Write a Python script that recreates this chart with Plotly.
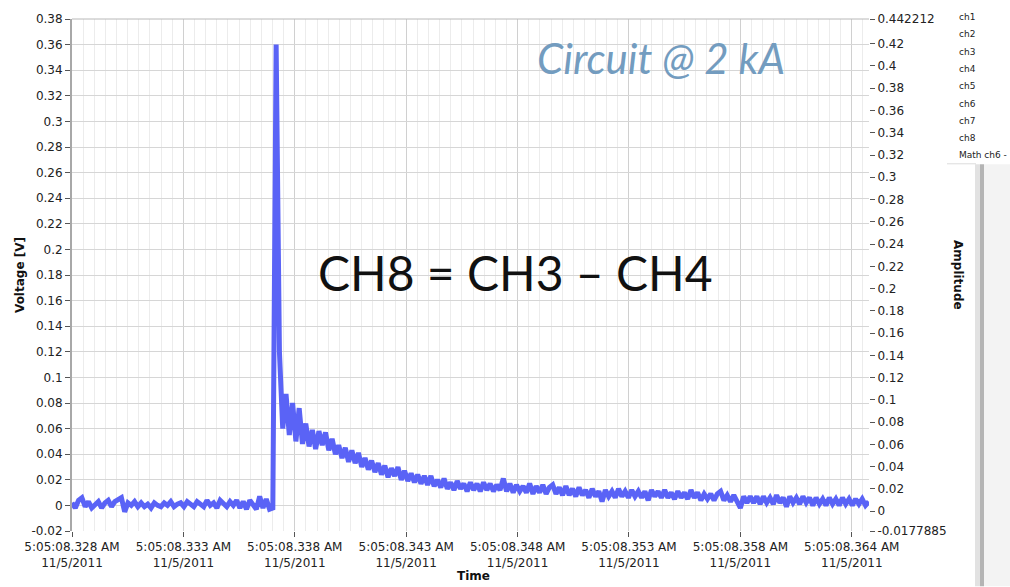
import plotly.graph_objects as go

# ---------------- data ----------------
dt_ms = 0.15  # sample interval (ms) from the first tick time

voltage = [
    0.002, -0.002, 0.004, 0.006, -0.001, 0.003, -0.002, 0.001, 0.003, -0.002,
    0.002, 0.004, -0.001, 0.003, 0.005, 0.006, -0.005, 0.002, 0.000, 0.003,
    -0.001, 0.002, -0.001, 0.001, -0.002, 0.002, 0.000, -0.001, 0.002, 0.000,
    0.003, -0.001, 0.001, 0.002, -0.001, 0.003, 0.001, -0.001, 0.003, 0.001,
    -0.001, 0.004, 0.000, 0.002, -0.002, 0.004, 0.001, -0.001, 0.003, 0.000,
    0.004, -0.002, 0.003, -0.003, 0.004, 0.001, -0.003, 0.007, -0.002, 0.005,
    -0.003, -0.002,
    0.360, 0.120, 0.060, 0.087, 0.055, 0.080, 0.050, 0.076, 0.048, 0.064,
    0.046, 0.059, 0.044, 0.058, 0.047, 0.057, 0.043, 0.052, 0.040, 0.047,
    0.037, 0.045, 0.034, 0.043, 0.033, 0.041, 0.030, 0.037, 0.028, 0.035,
    0.026, 0.033, 0.024, 0.031, 0.022, 0.029, 0.023, 0.030, 0.020, 0.027,
    0.019, 0.025, 0.018, 0.024, 0.017, 0.023, 0.016, 0.023, 0.015, 0.020,
    0.014, 0.021, 0.013, 0.018, 0.012, 0.019, 0.013, 0.017, 0.011, 0.018,
    0.012, 0.017, 0.011, 0.018, 0.012, 0.017, 0.011, 0.016, 0.012, 0.021,
    0.011, 0.017, 0.010, 0.016, 0.011, 0.015, 0.010, 0.017, 0.009, 0.015,
    0.010, 0.016, 0.009, 0.014, 0.016, 0.009, 0.014, 0.008, 0.015, 0.008,
    0.013, 0.007, 0.014, 0.008, 0.012, 0.006, 0.013, 0.007, 0.011, 0.003,
    0.012, 0.007, 0.011, 0.006, 0.013, 0.007, 0.011, 0.006, 0.012, 0.007,
    0.011, 0.006, 0.011, 0.004, 0.012, 0.007, 0.011, 0.006, 0.012, 0.006,
    0.010, 0.005, 0.011, 0.006, 0.010, 0.005, 0.012, 0.006, 0.010, 0.004,
    0.009, 0.005, 0.009, 0.004, 0.009, 0.011, 0.004, 0.008, 0.003, 0.008,
    0.002, -0.002, 0.007, 0.002, 0.007, 0.002, 0.007, 0.001, 0.007, 0.002,
    0.006, 0.001, 0.008, 0.002, 0.006, -0.001, 0.007, 0.002, 0.006, 0.001,
    0.007, 0.002, 0.006, 0.000, 0.006, 0.001, 0.005, 0.000, 0.006, 0.001,
    0.005, 0.000, 0.006, 0.001, 0.005, 0.000, 0.005, 0.001, 0.005, 0.000,
    0.003,
]
time_ms = [i * dt_ms for i in range(len(voltage))]

x_tick_ms = [0.0, 5.075, 10.15, 15.225, 20.3, 25.375, 30.45, 35.525]
x_tick_text = [
    "5:05:08.328 AM<br>11/5/2011",
    "5:05:08.333 AM<br>11/5/2011",
    "5:05:08.338 AM<br>11/5/2011",
    "5:05:08.343 AM<br>11/5/2011",
    "5:05:08.348 AM<br>11/5/2011",
    "5:05:08.353 AM<br>11/5/2011",
    "5:05:08.358 AM<br>11/5/2011",
    "5:05:08.364 AM<br>11/5/2011",
]
x_range = [0.0, 36.31]

y_left_ticks = [-0.02, 0, 0.02, 0.04, 0.06, 0.08, 0.1, 0.12, 0.14, 0.16, 0.18,
                0.2, 0.22, 0.24, 0.26, 0.28, 0.3, 0.32, 0.34, 0.36, 0.38]
y_left_range = [-0.02, 0.38]

y_right_min = -0.0177885
y_right_max = 0.442212
y_right_ticks = [y_right_min, 0, 0.02, 0.04, 0.06, 0.08, 0.1, 0.12, 0.14, 0.16,
                 0.18, 0.2, 0.22, 0.24, 0.26, 0.28, 0.3, 0.32, 0.34, 0.36,
                 0.38, 0.4, 0.42, y_right_max]

legend_names = ["ch1", "ch2", "ch3", "ch4", "ch5", "ch6", "ch7", "ch8", "Math ch6 -"]


def fmt(v):
    return ("%g" % round(v, 7)).replace("\u2212", "-")


# ---------------- layout helpers (pixel -> paper) ----------------
W, H = 1010, 587
L, R, T, B = 72, 141, 13, 56
PW, PH = W - L - R, H - T - B


def px(x):
    return (x - L) / PW


def py(y):
    return (H - B - y) / PH


LINE_COLOR = "#5a63f6"
TICK_FONT = dict(family="DejaVu Sans", size=12, color="#222222")

fig = go.Figure()
fig.add_trace(go.Scatter(
    x=time_ms, y=voltage, mode="lines",
    line=dict(color=LINE_COLOR, width=5),
    showlegend=False, hoverinfo="skip",
))
# invisible trace so the right-hand Amplitude axis renders
fig.add_trace(go.Scatter(
    x=[x_range[0]], y=[0], yaxis="y2", mode="markers",
    marker=dict(opacity=0), showlegend=False, hoverinfo="skip",
))

fig.update_layout(
    width=W, height=H,
    margin=dict(l=L, r=R, t=T, b=B, pad=0),
    paper_bgcolor="white", plot_bgcolor="white",
    xaxis=dict(
        range=x_range, tickmode="array", tickvals=x_tick_ms, ticktext=x_tick_text,
        showgrid=True, gridcolor="#d0d0d0", gridwidth=1,
        ticks="outside", ticklen=5, tickcolor="#555555",
        tickfont=TICK_FONT, zeroline=False, showline=False,
        minor=dict(tickmode="array",
                   tickvals=[i * 0.5075 for i in range(72)],
                   showgrid=True, gridcolor="#ececec", gridwidth=1, ticks=""),
    ),
    yaxis=dict(
        range=y_left_range, tickmode="array", tickvals=y_left_ticks,
        ticktext=[fmt(v) for v in y_left_ticks],
        showgrid=True, gridcolor="#d6d6d6", gridwidth=1,
        ticks="outside", ticklen=5, tickcolor="#555555",
        tickfont=TICK_FONT, zeroline=False,
        showline=True, linecolor="#a8a8a8", linewidth=2,
    ),
    yaxis2=dict(
        overlaying="y", side="right", anchor="x",
        range=[y_right_min, y_right_max], tickmode="array",
        tickvals=y_right_ticks, ticktext=[fmt(v) for v in y_right_ticks],
        showgrid=False, zeroline=False, showline=False,
        ticks="outside", ticklen=5, tickcolor="#555555",
        tickfont=TICK_FONT,
    ),
)

shapes = [
    # top border line
    dict(type="line", xref="paper", yref="paper", x0=0, x1=1, y0=1, y1=1,
         line=dict(color="#b8b8b8", width=1)),
    # right side panel pieces
    dict(type="rect", xref="paper", yref="paper", x0=px(975), x1=px(980),
         y0=py(H), y1=py(160), fillcolor="#e2e2e2", line=dict(width=0)),
    dict(type="rect", xref="paper", yref="paper", x0=px(980), x1=px(984),
         y0=py(H), y1=py(160), fillcolor="#b4b4b4", line=dict(width=0)),
    dict(type="rect", xref="paper", yref="paper", x0=px(984), x1=px(W),
         y0=py(H), y1=py(160), fillcolor="#f3f3f3", line=dict(width=0)),
    dict(type="line", xref="paper", yref="paper", x0=px(947), x1=px(976),
         y0=py(159.5), y1=py(159.5), line=dict(color="#dcdcdc", width=1)),
]

annotations = [
    dict(text="<b>Voltage [V]</b>", x=px(20), y=py(272), textangle=-90,
         font=dict(family="DejaVu Sans", size=12, color="#111111")),
    dict(text="<b>Amplitude</b>", x=px(958), y=py(272), textangle=90,
         font=dict(family="DejaVu Sans", size=12, color="#111111")),
    dict(text="<b>Time</b>", x=px(473), y=py(577),
         font=dict(family="DejaVu Sans", size=12, color="#111111")),
    dict(text="CH8 = CH3 \u2013 CH4", x=px(515), y=py(269),
         font=dict(family="Lato", size=48, color="#111111")),
    dict(text="<i>Circuit @ 2 kA</i>", x=px(661), y=py(52),
         font=dict(family="Lato", size=42, color="#739cbf")),
]
legend_y = [11, 28.5, 46, 63.5, 81, 98.5, 116, 133.5, 151]
for name, yy in zip(legend_names, legend_y):
    annotations.append(dict(text=name, x=px(957), y=py(yy), xanchor="left",
                            font=dict(family="DejaVu Sans", size=9, color="#222222")))

for a in annotations:
    a.setdefault("xref", "paper")
    a.setdefault("yref", "paper")
    a.setdefault("xanchor", "center")
    a.setdefault("yanchor", "middle")
    a.setdefault("showarrow", False)

fig.update_layout(shapes=shapes, annotations=annotations)

fig.write_html("out.html")
